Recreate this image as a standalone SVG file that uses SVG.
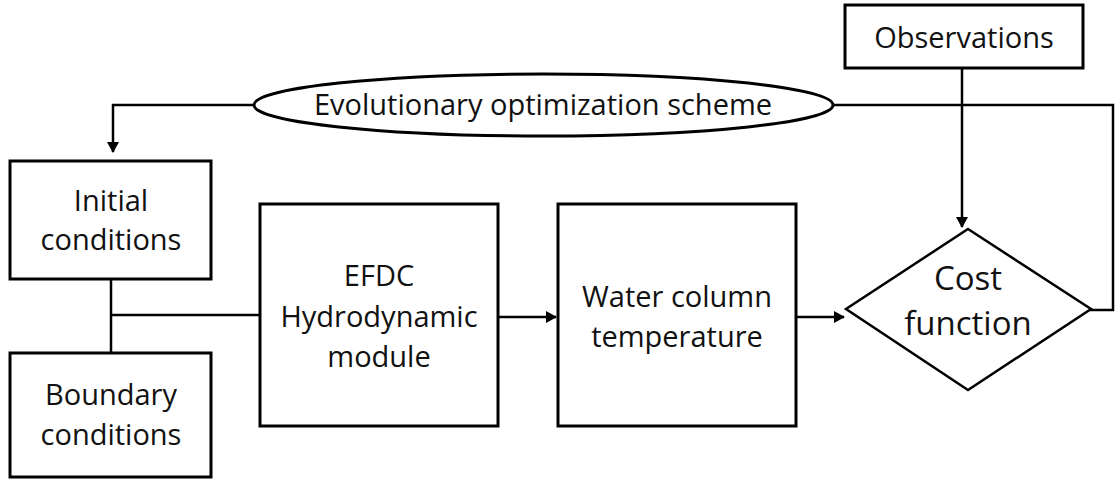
<svg xmlns="http://www.w3.org/2000/svg" width="1115" height="481" viewBox="0 0 1115 481">
<defs>
<marker id="ah" markerWidth="12" markerHeight="12" refX="10" refY="6" orient="auto" markerUnits="userSpaceOnUse">
<path d="M0,0 L11,6 L0,12 z" fill="#000"/>
</marker>
<style>
.box{fill:#fff;stroke:#000;stroke-width:3}
.ln{fill:none;stroke:#000;stroke-width:2.5}
.t{font-family:"Open Sans","Liberation Sans",sans-serif;font-size:29px;fill:#111;text-anchor:middle}
.tb{font-family:"Open Sans","Liberation Sans",sans-serif;font-size:33px;fill:#111;text-anchor:middle}
</style>
</defs>
<rect width="1115" height="481" fill="#fff"/>
<g id="connectors">
<polyline class="ln" points="254,105 113,105 113,152" marker-end="url(#ah)"/>
<polyline class="ln" points="833,105 1113,105 1113,310 1090,310"/>
<line class="ln" x1="111" y1="279" x2="111" y2="353"/>
<line class="ln" x1="111" y1="315" x2="260" y2="315"/>
<line class="ln" x1="498" y1="317" x2="556" y2="317" marker-end="url(#ah)"/>
<line class="ln" x1="796" y1="317" x2="844" y2="317" marker-end="url(#ah)"/>
<line class="ln" x1="962" y1="68" x2="962" y2="227" marker-end="url(#ah)"/>
</g>
<g id="observations">
<rect class="box" x="845" y="5" width="238" height="63"/>
<text class="t" x="964" y="48">Observations</text>
</g>
<g id="evolutionary">
<ellipse class="box" cx="543.5" cy="105" rx="289.5" ry="31"/>
<text class="t" x="543" y="115">Evolutionary optimization scheme</text>
</g>
<g id="initial">
<rect class="box" x="10" y="161" width="201" height="118"/>
<text class="t" x="111" y="211">Initial</text>
<text class="t" x="111" y="250">conditions</text>
</g>
<g id="boundary">
<rect class="box" x="10" y="353" width="201" height="124"/>
<text class="t" x="111" y="405">Boundary</text>
<text class="t" x="111" y="445">conditions</text>
</g>
<g id="efdc">
<rect class="box" x="260" y="204" width="238" height="222"/>
<text class="t" x="379" y="286">EFDC</text>
<text class="t" x="379" y="327">Hydrodynamic</text>
<text class="t" x="379" y="367">module</text>
</g>
<g id="water">
<rect class="box" x="558" y="204" width="238" height="222"/>
<text class="t" x="677" y="307">Water column</text>
<text class="t" x="677" y="347">temperature</text>
</g>
<g id="cost">
<polygon class="box" points="968,229 1091,309 968,390 846,309" style="stroke-width:2.5"/>
<text class="tb" x="968" y="290">Cost</text>
<text class="tb" x="968" y="335">function</text>
</g>
</svg>
